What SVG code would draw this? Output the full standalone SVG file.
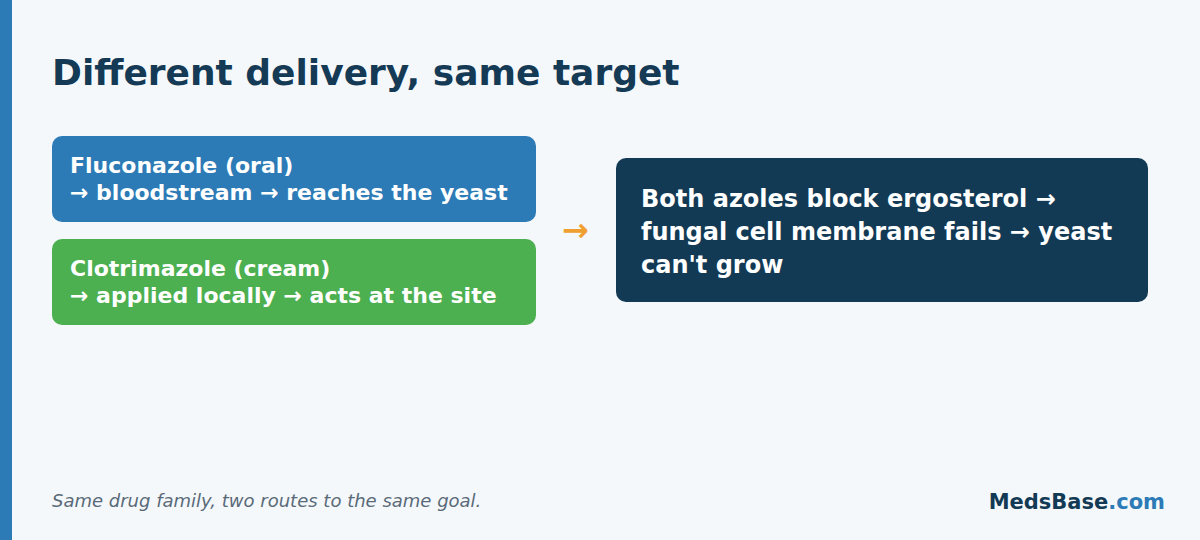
<svg xmlns="http://www.w3.org/2000/svg" width="1200" height="540" viewBox="0 0 1200 540">
<style>
text{font-family:"DejaVu Sans","Liberation Sans",sans-serif}
.t{font-weight:bold;fill:#ffffff}
.s{font-size:22px}
.b{font-size:24px}
</style>
<rect x="0" y="0" width="1200" height="540" fill="#f4f8fb"/>
<rect x="0" y="0" width="12" height="540" fill="#2c7bb6"/>
<text x="52" y="85" font-size="36" font-weight="bold" fill="#143a55">Different delivery, same target</text>
<g id="fluconazole">
<rect x="52" y="136" width="484" height="86" rx="10" fill="#2c7bb6"/>
<text class="t s" x="70" y="173">Fluconazole (oral)</text>
<text class="t s" x="70" y="200">→ bloodstream → reaches the yeast</text>
</g>
<g id="clotrimazole">
<rect x="52" y="239" width="484" height="86" rx="10" fill="#4caf50"/>
<text class="t s" x="70" y="276">Clotrimazole (cream)</text>
<text class="t s" x="70" y="303">→ applied locally → acts at the site</text>
</g>
<g id="connectors">
<text x="562" y="241" font-size="32" font-weight="bold" fill="#f0a030">→</text>
</g>
<g id="result">
<rect x="616" y="158" width="532" height="144" rx="10" fill="#133a55"/>
<text class="t b" x="641" y="207">Both azoles block ergosterol →</text>
<text class="t b" x="641" y="240">fungal cell membrane fails → yeast</text>
<text class="t b" x="641" y="273">can't grow</text>
</g>
<text x="52" y="507" font-size="18" font-style="italic" fill="#5a6a78">Same drug family, two routes to the same goal.</text>
<text x="1165" y="509" font-size="21" font-weight="bold" text-anchor="end" fill="#133a55">MedsBase<tspan fill="#2c7bb6">.com</tspan></text>
</svg>
